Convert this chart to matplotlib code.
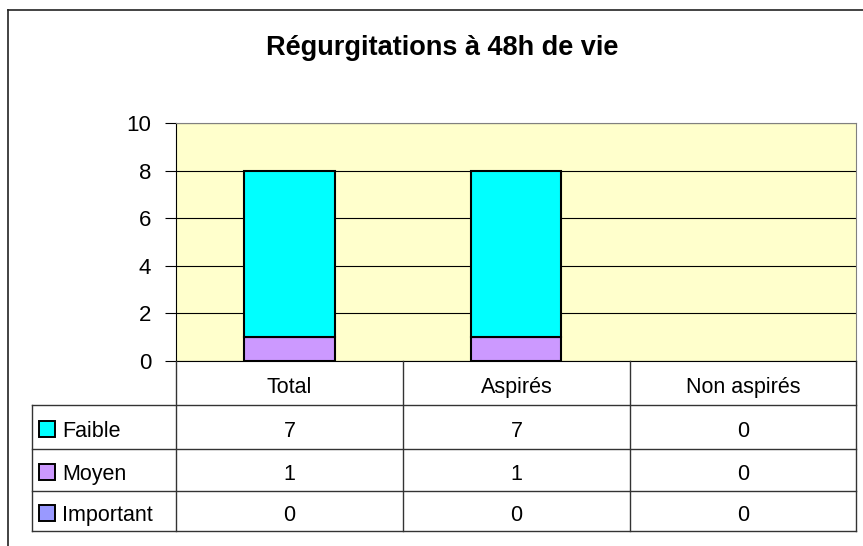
import matplotlib

matplotlib.use("Agg")
import matplotlib.pyplot as plt
from matplotlib.lines import Line2D
from matplotlib.patches import Rectangle

plt.rcParams["font.family"] = ["Liberation Sans", "DejaVu Sans"]

categories = ["Total", "Aspirés", "Non aspirés"]
series_names = ["Faible", "Moyen", "Important"]
faible = [7, 7, 0]
moyen = [1, 1, 0]
important = [0, 0, 0]
colors = {"Faible": "#00FFFF", "Moyen": "#CC99FF", "Important": "#9999FF"}

W, H = 863, 546
fig = plt.figure(figsize=(W / 100, H / 100), dpi=100)


def box(x0, y0, x1, y1):
    # pixel box (top-left origin) -> figure fraction rect
    return [x0 / W, 1 - y1 / H, (x1 - x0) / W, (y1 - y0) / H]


# outer chart frame
fig.add_artist(Line2D([8 / W, 1], [1 - 10 / H, 1 - 10 / H], color="#222222", lw=1.2))
fig.add_artist(Line2D([8 / W, 8 / W], [0, 1 - 10 / H], color="#222222", lw=1.2))

fig.text(442 / W, 1 - 48 / H, "Régurgitations à 48h de vie", ha="center", va="center",
         fontsize=19.5, fontweight="bold")

# plot area
ax = fig.add_axes(box(176, 123, 856, 361))
ax.set_facecolor("#FFFFCC")
x = range(len(categories))
stacks = [("Important", important), ("Moyen", moyen), ("Faible", faible)]
bottom = [0] * len(categories)
for name, vals in stacks:
    bars = ax.bar(x, vals, width=0.4, bottom=bottom, color=colors[name],
                  edgecolor="black", linewidth=1.5, zorder=3)
    for b in bars:
        if b.get_height() == 0:
            b.set_visible(False)
    bottom = [b + v for b, v in zip(bottom, vals)]
ax.set_xlim(-0.5, len(categories) - 0.5)
ax.set_ylim(0, 10)
ax.set_yticks(range(0, 11, 2))
ax.set_xticks([])
ax.yaxis.grid(True, color="black", lw=0.8)
ax.set_axisbelow(True)
ax.tick_params(axis="y", length=8, width=0.8, labelsize=16, pad=10)
ax.spines["left"].set_color("black")
ax.spines["bottom"].set_color("black")
ax.spines["top"].set_color("#808080")
ax.spines["right"].set_color("#808080")

# data table below the plot
tx = fig.add_axes(box(32, 361, 856, 531))
tx.set_xlim(32, 856)
tx.set_ylim(531, 361)
tx.axis("off")
col_edges = [176, 403, 630, 856]
row_edges = [361, 405, 449, 491, 531]
lc = "#333333"
for xe in col_edges:
    tx.plot([xe, xe], [361, 531], color=lc, lw=1, clip_on=False)
tx.plot([32, 32], [405, 531], color=lc, lw=1, clip_on=False)
for ye in row_edges[1:]:
    tx.plot([32, 856], [ye, ye], color=lc, lw=1, clip_on=False)

for i, cat in enumerate(categories):
    cx = (col_edges[i] + col_edges[i + 1]) / 2
    tx.text(cx, (row_edges[0] + row_edges[1]) / 2 + 2, cat, ha="center", va="center_baseline",
            fontsize=15.5)

for r, (name, vals) in enumerate(zip(series_names, [faible, moyen, important])):
    cy = (row_edges[r + 1] + row_edges[r + 2]) / 2 + 2
    tx.add_patch(Rectangle((39, cy - 8), 16, 16, facecolor=colors[name],
                           edgecolor="black", lw=1.4, clip_on=False))
    tx.text(62, cy, name, ha="left", va="center_baseline", fontsize=15.5)
    for i, v in enumerate(vals):
        cx = (col_edges[i] + col_edges[i + 1]) / 2
        tx.text(cx, cy, str(v), ha="center", va="center_baseline", fontsize=15.5)

fig.savefig("out.png", dpi=100)
